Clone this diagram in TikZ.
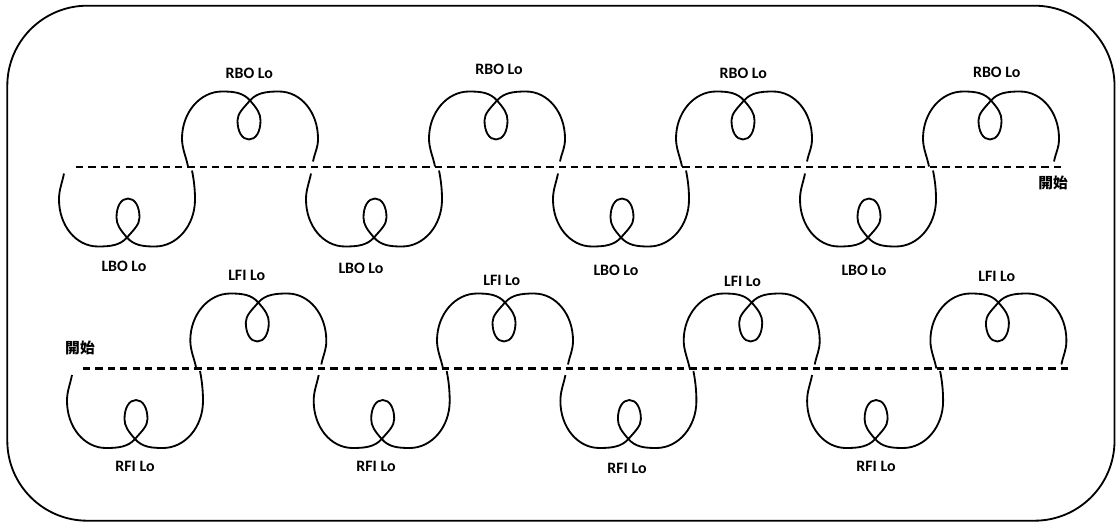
\documentclass[tikz,border=0pt]{standalone}
\usepackage{fontspec}
\setmainfont{Carlito}
\newfontfamily\cjkfont{Noto Sans CJK TC}

\begin{document}
\begin{tikzpicture}[x=0.025cm, y=0.025cm,
    curve/.style={line width=1.3pt},
    guide/.style={line width=1.5pt, dash pattern=on 5.2pt off 3.6pt},
    frame/.style={line width=1.3pt, rounded corners=2cm},
    lbl/.style={font=\fontsize{11.3}{13}\selectfont\bfseries, inner sep=0pt},
    beginlbl/.style={font=\fontsize{10.5}{12}\selectfont\cjkfont\bfseries, inner sep=0pt},
    % one loop figure, crossing at the origin, start (#1,#2), end at height #3
    pics/lobe/.style n args={3}{code={
        \draw[curve] (#1,#2) .. controls +(-2,10) and +(0,-10) .. (-68,-38)
            .. controls +(0,26) and +(-22,0) .. (-28,9)
            .. controls +(12,0) and +(-7,8) .. (0,0)
            .. controls +(7,-8) and +(0,7) .. (10.5,-20)
            .. controls +(0,-11) and +(7,0) .. (-1,-39)
            .. controls +(-7,0) and +(0,-11) .. (-12.5,-20)
            .. controls +(0,7) and +(-7,-8) .. (0,0)
            .. controls +(7,8) and +(-12,0) .. (29,9)
            .. controls +(22,0) and +(0,26) .. (68,-38)
            .. controls +(0,-10) and +(2,10) .. (63,#3);
    }}
]
    \useasboundingbox (0,0) rectangle (1116,522);

    % Outer frame
    \draw[frame] (7.3,1.3) rectangle (1114.5,516.3);

    % 1. Upper line: RBO above, LBO below
    \draw[guide] (76,355.3) -- (1063,355.3);
    \foreach \i in {0,1,2,3} {
        \pic at ({250+247*\i},421.5) {lobe={-62}{-66}{-61}};
        \pic[rotate=180] at ({127+247*\i},284.5) {lobe={-65}{-67}{-64}};
    }
    \foreach \x/\y [count=\n] in {249.3/448.7, 499/452.7, 743.3/448.7, 996.7/449.3}
        \node[lbl] (rbo\n) at (\x,\y) {RBO Lo};
    \foreach \x/\y [count=\n] in {124/255.3, 361/254, 616/252, 864/252}
        \node[lbl] (lbo\n) at (\x,\y) {LBO Lo};
    \node[beginlbl] (begin1) at (1053,339) {開始};

    % 2. Lower line: LFI above, RFI below
    \draw[guide] (83,153.5) -- (1072,153.5);
    \foreach \i in {0,1,2,3} {
        \pic at ({258.3+246.7*\i},219.5) {lobe={-62}{-66}{-62}};
        \pic[rotate=180] at ({135+246.7*\i},83) {lobe={-65}{-68}{-64}};
    }
    \foreach \x/\y [count=\n] in {246.7/247, 501.7/241.3, 742.5/241, 996.7/245.3}
        \node[lbl] (lfi\n) at (\x,\y) {LFI Lo};
    \foreach \x/\y [count=\n] in {135/55.3, 376/55.3, 627/54, 876/56}
        \node[lbl] (rfi\n) at (\x,\y) {RFI Lo};
    \node[beginlbl] (begin2) at (80,173.7) {開始};
\end{tikzpicture}
\end{document}
